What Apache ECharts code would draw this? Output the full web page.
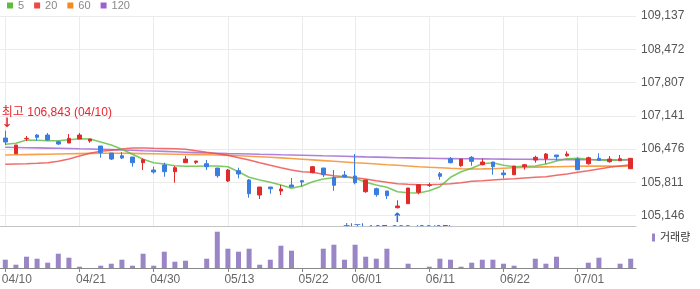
<!DOCTYPE html>
<html>
<head>
<meta charset="utf-8">
<script src="https://cdn.jsdelivr.net/npm/echarts@6/dist/echarts.min.js"></script>
<style>
  html, body { margin: 0; padding: 0; background: #fff; }
  #chart { width: 700px; height: 289px; }
</style>
</head>
<body>
<div id="chart"></div>
<script>
// trading days (only some of them get a label)
const dates = ['04/10','04/11','04/14','04/15','04/16','04/17','04/18','04/21','04/22','04/23',
  '04/24','04/25','04/28','04/29','04/30','05/01','05/02','05/07','05/08','05/09',
  '05/12','05/13','05/14','05/15','05/16','05/19','05/20','05/21','05/22','05/23',
  '05/26','05/27','05/28','06/01','06/02','06/03','06/04','06/05','06/09','06/10',
  '06/11','06/12','06/13','06/16','06/17','06/18','06/19','06/22','06/23','06/24',
  '06/25','06/26','06/27','06/30','07/01','07/02','07/03','07/04','07/07','07/08'];
const labelDates = ['04/10','04/21','04/30','05/13','05/22','06/01','06/11','06/22','07/01'];

const opens = [106696,106382,106682,106756,106756,106622,106596,106676,106636,106536,
  106396,106342,106316,106202,106056,106156,106022,106202,106210,106182,
  106096,105836,106042,105856,105556,105716,105636,105756,105842,106002,
  106096,105910,105956,105936,105622,105682,105636,105302,105382,105610,
  105750,105982,106282,106142,106310,106162,106216,105996,105962,106122,
  106256,106282,106356,106342,106276,106182,106290,106222,106242,106082];
const closes = [106616,106556,106690,106710,106656,106576,106690,106756,106676,106402,
  106276,106296,106202,106262,106016,106022,106102,106276,106236,106122,
  105942,106056,105976,105582,105716,105682,105676,105716,105816,106122,
  105962,105750,105916,105802,105856,105562,105542,105336,105696,105762,
  105756,105930,106202,106276,106230,106216,106122,105962,106136,106162,
  106310,106376,106322,106376,106062,106302,106250,106276,106282,106290];
const lows = [106556,106376,106636,106642,106642,106556,106596,106676,106602,106302,
  106256,106276,106122,106056,105982,105922,105802,106202,106176,106056,
  105902,105816,105890,105502,105476,105582,105556,105716,105722,105990,
  105916,105642,105902,105770,105602,105522,105476,105288,105382,105570,
  105716,105862,106190,106122,106142,106150,105962,105890,105962,106062,
  106202,106182,106242,106322,106062,106162,106236,106202,106242,106082];
const highs = [106843,106556,106736,106776,106796,106642,106776,106796,106676,106536,
  106396,106416,106316,106290,106122,106202,106136,106336,106236,106256,
  106096,106076,106102,105876,105716,105716,105756,105896,105856,106136,
  106096,106056,106036,106376,105856,105702,105636,105450,105696,105762,
  105802,106016,106316,106276,106336,106282,106216,106056,106136,106176,
  106342,106396,106356,106430,106310,106322,106390,106336,106356,106290];

const ma5 = [106570,106590,106656,106650,106642,106642,106662,106682,106676,106616,
  106556,106470,106370,106270,106202,106176,106142,106130,106130,106136,
  106136,106122,106022,105910,105856,105810,105756,105690,105736,105822,
  105876,105902,105922,105890,105810,105756,105710,105622,105602,105596,
  105642,105722,105910,106022,106090,106182,106202,106150,106122,106130,
  106136,106176,106236,106282,106290,106270,106256,106250,106256,106270];
const ma20 = [106170,106176,106180,106190,106202,106230,106276,106336,106390,106430,
  106450,106476,106496,106496,106490,106486,106482,106470,106442,106410,
  106382,106350,106302,106256,106202,106150,106102,106056,106022,106010,
  105970,105942,105922,105902,105876,105842,105810,105782,105770,105762,
  105762,105770,105782,105802,105830,105842,105856,105870,105882,105896,
  105910,105922,105950,105976,106010,106042,106076,106110,106136,106162];
const ma60 = [106356,106360,106364,106368,106372,106376,106380,106384,106388,106390,
  106390,106390,106388,106384,106380,106376,106372,106368,106364,106360,
  106356,106348,106340,106332,106322,106310,106298,106286,106272,106258,
  106244,106230,106216,106202,106190,106176,106162,106150,106136,106122,
  106110,106100,106090,106082,106076,106078,106082,106092,106102,106108,
  106114,106118,106122,106126,106130,106134,106136,106134,106132,106130];
const ma120 = [106510,106506,106502,106498,106494,106490,106486,106480,106476,106470,
  106464,106456,106450,106442,106436,106428,106420,106412,106404,106396,
  106390,106384,106380,106376,106370,106366,106360,106356,106352,106346,
  106340,106336,106330,106324,106318,106314,106308,106302,106298,106294,
  106290,106286,106284,106282,106280,106278,106276,106274,106272,106270,
  106268,106266,106266,106264,106262,106260,106260,106258,106256,106256];

const volumes = [830,330,1130,930,530,1430,1030,130,0,230,
  430,830,230,1430,230,1630,630,730,0,930,
  3630,1930,1630,1930,330,830,2230,1730,0,0,
  1930,2330,830,2330,1130,930,1930,0,430,0,
  130,930,830,130,530,830,830,430,230,0,
  930,430,1130,0,0,530,1030,0,430,930];

const yTicks = [105146,105811,106476,107141,107807,108472,109137];

const font = "'Liberation Sans', 'Noto Sans CJK KR', sans-serif";
const fmt = v => Math.round(v).toLocaleString('en-US');
const isLabelDate = (i, v) => labelDates.indexOf(v) >= 0;

const candles = dates.map((d, i) => [opens[i], closes[i], lows[i], highs[i]]);
const hiVal = Math.max(...highs), hiIdx = highs.indexOf(hiVal);
const loVal = Math.min(...lows), loIdx = lows.indexOf(loVal);

const maLine = (name, data, color) => ({
  name: name, type: 'line', data: data,
  xAxisIndex: 0, yAxisIndex: 0,
  showSymbol: false, symbol: 'none', z: 2,
  itemStyle: { color: color },
  lineStyle: { color: color, width: 1.6, opacity: 0.8 },
  emphasis: { disabled: true }
});

const arrowStyle = { fontFamily: 'DejaVu Sans', fontSize: 13, fontWeight: 'bold' };

const chart = echarts.init(document.getElementById('chart'));
chart.setOption({
  animation: false,
  backgroundColor: '#fff',
  textStyle: { fontFamily: font },
  legend: [{
    data: ['5', '20', '60', '120'],
    left: 7, top: 0, padding: 0,
    icon: 'rect', itemWidth: 6, itemHeight: 6, itemGap: 10,
    selectedMode: false,
    textStyle: { color: '#888', fontSize: 11, fontFamily: font }
  }, {
    data: ['거래량'],
    left: 652, top: 232, padding: 0, z: 6,
    icon: 'rect', itemWidth: 3, itemHeight: 8,
    selectedMode: false,
    textStyle: { color: '#333', fontSize: 11, fontFamily: font }
  }],
  grid: [
    { left: 0, width: 636, top: 16, height: 210, outerBoundsMode: 'none' },
    { left: 0, width: 636, top: 226, height: 42, outerBoundsMode: 'none' }
  ],
  xAxis: [{
    gridIndex: 0, type: 'category', data: dates, boundaryGap: true,
    axisLine: { show: true, lineStyle: { color: '#888' } },
    axisTick: { show: false },
    axisLabel: { show: false },
    splitLine: { show: true, interval: isLabelDate, alignWithLabel: true, lineStyle: { color: '#ebebeb' } }
  }, {
    gridIndex: 1, type: 'category', data: dates, boundaryGap: true, z: 5,
    axisLine: { show: true, lineStyle: { color: '#888' } },
    axisTick: { show: true, interval: isLabelDate, alignWithLabel: true, length: 4, lineStyle: { color: '#888' } },
    axisLabel: {
      interval: isLabelDate, color: '#666', fontSize: 12, fontFamily: font,
      margin: 6, align: 'left', padding: [0, 0, 0, -3.5]
    },
    splitLine: { show: false }
  }],
  yAxis: [{
    gridIndex: 0, type: 'value', position: 'right',
    min: 104936, max: 109137,
    axisLine: { show: false },
    axisTick: { show: false, customValues: yTicks },
    axisLabel: { customValues: yTicks, formatter: v => fmt(v), color: '#555', fontSize: 12, fontFamily: font, margin: 5 },
    splitLine: { show: true, lineStyle: { color: '#ebebeb' } }
  }, {
    gridIndex: 1, type: 'value', min: 0, max: 4200, show: false,
    splitLine: { show: false }
  }],
  graphic: [{
    type: 'rect', z: 2,
    shape: { x: 0, y: 226.5, width: 700, height: 41.5 },
    style: { fill: '#fff' }
  }],
  series: [
    maLine('120', ma120, '#9b62cf'),
    maLine('60', ma60, '#f5891f'),
    maLine('20', ma20, '#ec4848'),
    maLine('5', ma5, '#5fbc3d'),
    {
      name: 'price', type: 'candlestick', data: candles,
      xAxisIndex: 0, yAxisIndex: 0, z: 3,
      barWidth: 4,
      itemStyle: {
        color: '#e02b2b', color0: '#3a7de0',
        borderColor: '#e02b2b', borderColor0: '#3a7de0', borderWidth: 1
      },
      emphasis: { disabled: true },
      markPoint: {
        z: 1,
        symbol: 'rect', symbolSize: 1,
        itemStyle: { color: 'rgba(0,0,0,0)' },
        data: [{
          coord: [hiIdx, hiVal],
          label: {
            show: true, position: 'top', distance: 1, align: 'left', offset: [-3.5, 0],
            formatter: '최고 ' + fmt(hiVal) + ' (' + dates[hiIdx] + ')\n{arr|↓}',
            color: '#e8262e', fontSize: 12, lineHeight: 11, fontFamily: font,
            rich: { arr: Object.assign({ lineHeight: 11 }, arrowStyle) }
          }
        }, {
          coord: [loIdx, loVal],
          label: {
            show: true, position: 'bottom', distance: 4, align: 'center',
            formatter: '{arr|↑}\n최저 ' + fmt(loVal) + ' (' + dates[loIdx] + ')',
            color: '#2f6fd6', fontSize: 12, lineHeight: 12, fontFamily: font,
            rich: { arr: Object.assign({ lineHeight: 12 }, arrowStyle) }
          }
        }]
      }
    },
    {
      name: '거래량', type: 'bar', data: volumes,
      xAxisIndex: 1, yAxisIndex: 1, z: 4,
      barWidth: 5,
      itemStyle: { color: '#9a86c6' },
      emphasis: { disabled: true }
    }
  ]
});
</script>
</body>
</html>
